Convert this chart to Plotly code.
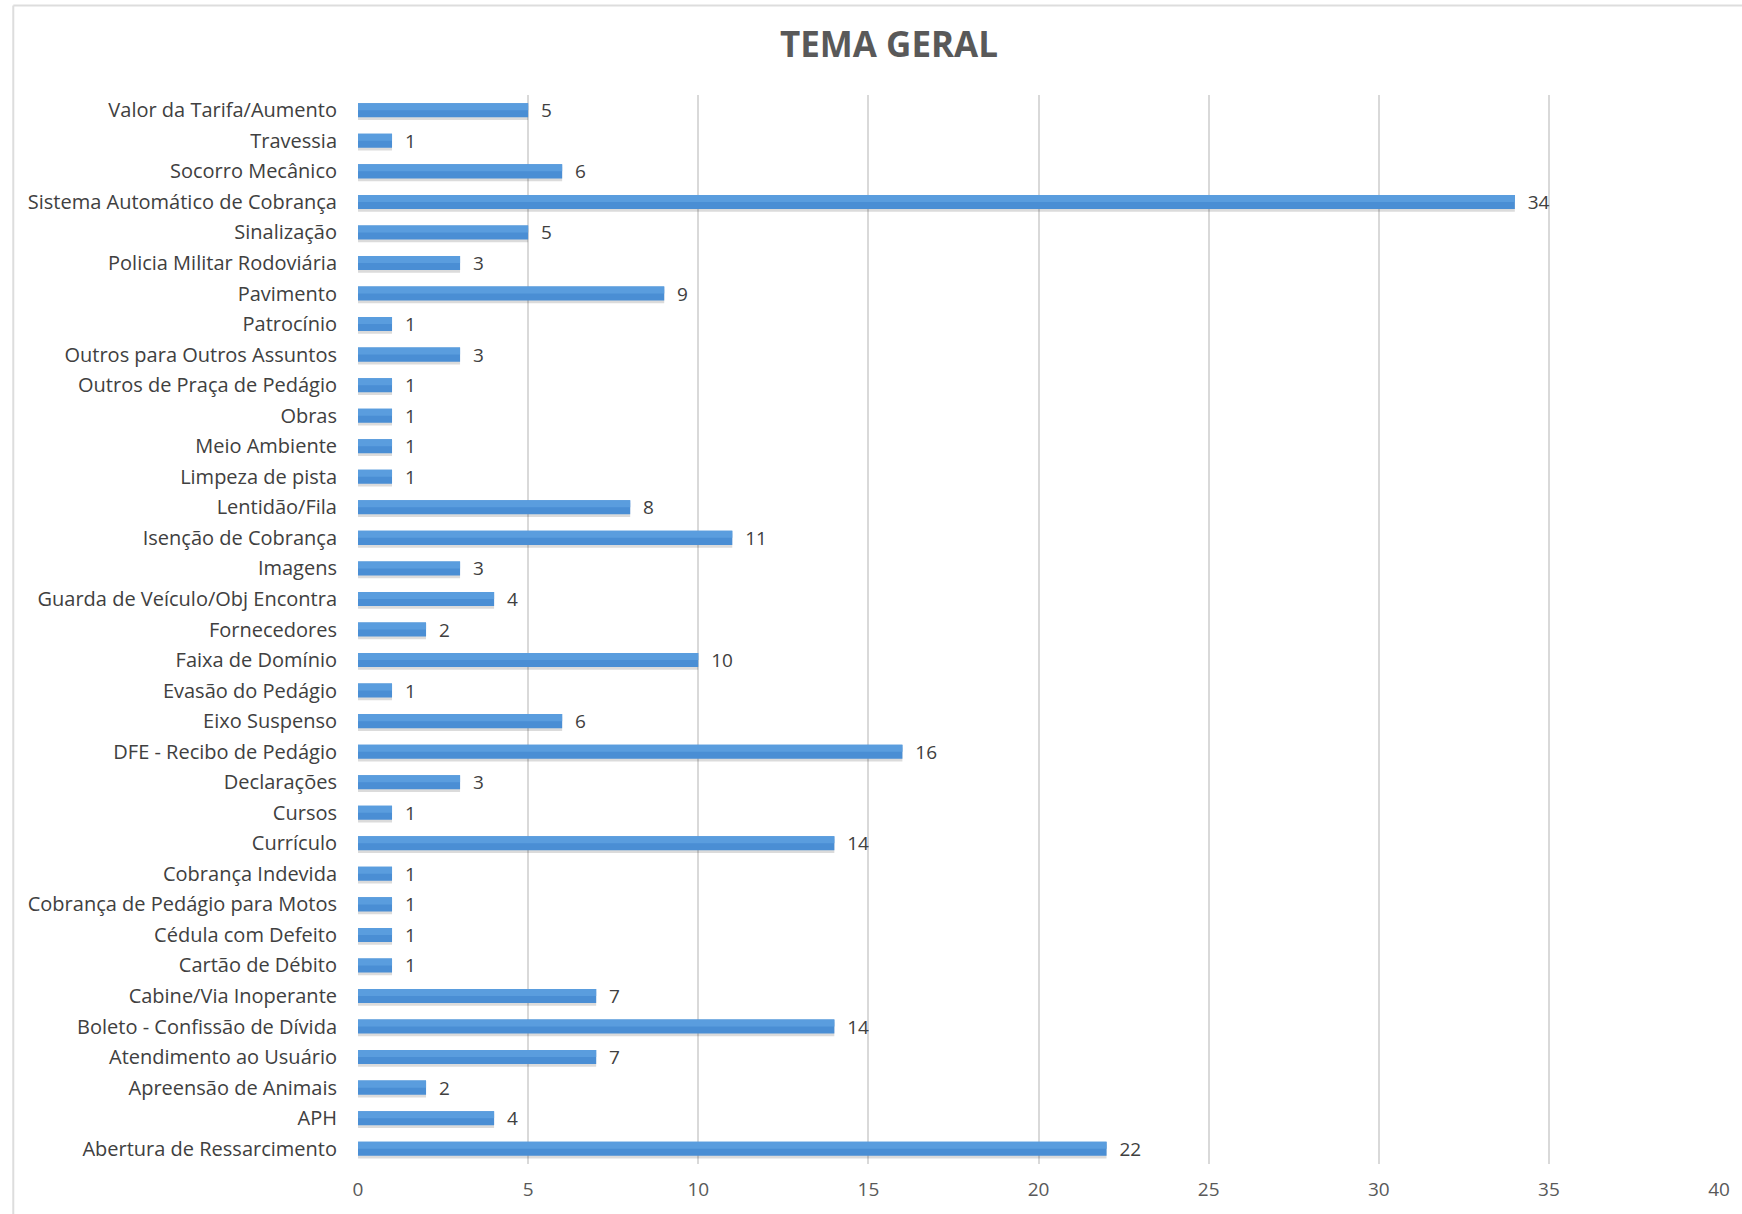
import plotly.graph_objects as go

categories = [
    "Abertura de Ressarcimento", "APH", "Apreensão de Animais", "Atendimento ao Usuário",
    "Boleto - Confissão de Dívida", "Cabine/Via Inoperante", "Cartão de Débito",
    "Cédula com Defeito", "Cobrança de Pedágio para Motos", "Cobrança Indevida",
    "Currículo", "Cursos", "Declarações", "DFE - Recibo de Pedágio", "Eixo Suspenso",
    "Evasão do Pedágio", "Faixa de Domínio", "Fornecedores", "Guarda de Veículo/Obj Encontra",
    "Imagens", "Isenção de Cobrança", "Lentidão/Fila", "Limpeza de pista", "Meio Ambiente",
    "Obras", "Outros de Praça de Pedágio", "Outros para Outros Assuntos", "Patrocínio",
    "Pavimento", "Policia Militar Rodoviária", "Sinalização", "Sistema Automático de Cobrança",
    "Socorro Mecânico", "Travessia", "Valor da Tarifa/Aumento",
]
values = [22, 4, 2, 7, 14, 7, 1, 1, 1, 1, 14, 1, 3, 16, 6, 1, 10, 2, 4, 3, 11, 8, 1, 1, 1,
          1, 3, 1, 9, 3, 5, 34, 6, 1, 5]
x_ticks = [0, 5, 10, 15, 20, 25, 30, 35, 40]
title_text = "TEMA GERAL"

FONT = "Open Sans"
W, H = 1742, 1214
ml, mr, mt, mb = 358, 18, 95, 45
pw, ph = W - ml - mr, H - mt - mb

BW = 0.46
fig = go.Figure()
# soft shadow under each bar
fig.add_trace(go.Bar(
    y=categories, x=values, orientation="h",
    marker=dict(color="rgba(0,0,0,0.14)", line=dict(width=0)),
    width=BW, offset=-BW / 2 - 0.09, hoverinfo="skip",
))
fig.add_trace(go.Bar(
    y=categories, x=values, orientation="h",
    marker=dict(color="#4A8ED4", line=dict(width=0)),
    width=BW, offset=-BW / 2,
    text=values, texttemplate="  %{x}", textposition="outside",
    constraintext="none",
    textfont=dict(family=FONT, size=19, color="#404040"),
    cliponaxis=False,
))
# lighter upper half to mimic the gradient fill
fig.add_trace(go.Bar(
    y=categories, x=values, orientation="h",
    marker=dict(color="#5A9DDE", line=dict(width=0)),
    width=BW / 2, offset=0.0, hoverinfo="skip",
))

def px_x(p):
    return (p - ml) / pw

def px_y(p):
    return (H - mb - p) / ph

fig.update_layout(
    width=W, height=H,
    margin=dict(l=ml, r=mr, t=mt, b=mb),
    paper_bgcolor="white", plot_bgcolor="white",
    showlegend=False, barmode="overlay",
    title=dict(text=f"<b>{title_text}</b>", x=889 / W, xanchor="center",
               y=1 - 45 / H, yanchor="middle",
               font=dict(family=FONT, size=35, color="#595959")),
    xaxis=dict(range=[0, 40], tickvals=x_ticks, showgrid=True, gridcolor="#D9D9D9",
               gridwidth=1.5, zeroline=False, showline=False,
               tickfont=dict(family=FONT, size=19, color="#595959"), ticks="",
               ticklabelstandoff=12),
    yaxis=dict(categoryorder="array", categoryarray=categories, range=[-0.5, len(categories) - 0.5],
               showgrid=False, zeroline=False, showline=False, ticks="",
               tickfont=dict(family=FONT, size=20, color="#404040"),
               ticklabelstandoff=20),
    shapes=[
        dict(type="line", xref="paper", yref="paper", x0=px_x(12), x1=px_x(1800),
             y0=px_y(5), y1=px_y(5), line=dict(color="#DDDDDD", width=2)),
        dict(type="line", xref="paper", yref="paper", x0=px_x(12), x1=px_x(12),
             y0=px_y(5), y1=px_y(1260), line=dict(color="#DDDDDD", width=2)),
    ],
)

fig.write_html("out.html", config={"displayModeBar": False},
               post_script="document.body.style.margin='0';")
